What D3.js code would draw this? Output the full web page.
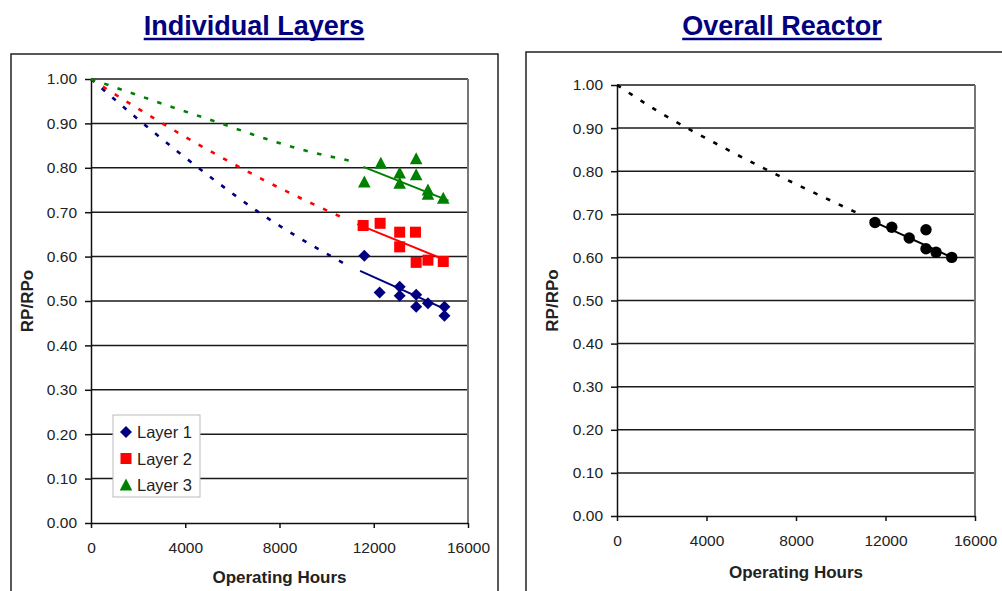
<!DOCTYPE html>
<html><head><meta charset="utf-8">
<script src="https://cdn.jsdelivr.net/npm/d3@7"></script>
<style>
body{margin:0;background:#fff}
svg{display:block;font-family:"Liberation Sans",Arial,sans-serif}
</style>
</head><body>
<svg id="chart" width="1002" height="591"></svg>
<script>
// ---------- data ----------
const yTicks = [0, 0.1, 0.2, 0.3, 0.4, 0.5, 0.6, 0.7, 0.8, 0.9, 1.0];
const xTicks = [0, 4000, 8000, 12000, 16000];

const layer1Hours  = [11600, 12250, 13100, 13100, 13800, 13800, 14300, 15000, 15000];
const layer1Values = [0.602, 0.519, 0.532, 0.512, 0.514, 0.487, 0.495, 0.487, 0.467];
const layer2Hours  = [11550, 12270, 13100, 13100, 13770, 13800, 14300, 14950];
const layer2Values = [0.670, 0.675, 0.655, 0.622, 0.655, 0.587, 0.592, 0.589];
const layer3Hours  = [11600, 12300, 13100, 13100, 13800, 13800, 14300, 14300, 14950];
const layer3Values = [0.768, 0.810, 0.788, 0.765, 0.820, 0.784, 0.750, 0.740, 0.731];
const overallHours  = [11530, 12280, 13060, 13810, 13810, 14260, 14960];
const overallValues = [0.681, 0.670, 0.645, 0.664, 0.620, 0.612, 0.600];

// trend lines (solid, over data range)
const layer1TrendHours = [11420, 15100], layer1TrendValues = [0.568, 0.480];
const layer2TrendHours = [11300, 15100], layer2TrendValues = [0.673, 0.591];
const layer3TrendHours = [11560, 15170], layer3TrendValues = [0.802, 0.726];
const overallTrendHours = [11300, 15050], overallTrendValues = [0.687, 0.598];

// dotted extrapolations back to origin
const layer1ExtHours = [0, 2300, 5050, 7035, 10860], layer1ExtValues = [1.0, 0.896, 0.780, 0.703, 0.581];
const layer2ExtHours = [0, 2250, 4980, 7316, 10785], layer2ExtValues = [1.0, 0.925, 0.840, 0.773, 0.685];
const layer3ExtHours = [0, 4726, 9299, 11070], layer3ExtValues = [1.0, 0.914, 0.836, 0.815];
const overallExtHours = [0, 1800, 4900, 10950], overallExtValues = [1.0, 0.940, 0.851, 0.698];

const legendLabels = ["Layer 1", "Layer 2", "Layer 3"];
const colors = {l1: "#000080", l2: "#ff0000", l3: "#008000", all: "#000000"};

// ---------- drawing ----------
const svg = d3.select("#chart");
const zip = (a, b) => a.map((v, i) => [v, b[i]]);

function marker(g, type, cx, cy, color) {
  if (type === "diamond") {
    const r = 6;
    g.append("path").attr("d", `M${cx},${cy-r}L${cx+r},${cy}L${cx},${cy+r}L${cx-r},${cy}Z`).attr("fill", color);
  } else if (type === "square") {
    const r = 5.5;
    g.append("rect").attr("x", cx-r).attr("y", cy-r).attr("width", 2*r).attr("height", 2*r).attr("fill", color);
  } else if (type === "triangle") {
    const w = 6.3, h = 12;
    g.append("path").attr("d", `M${cx},${cy-h*0.55}L${cx+w},${cy+h*0.45}L${cx-w},${cy+h*0.45}Z`).attr("fill", color);
  } else {
    g.append("circle").attr("cx", cx).attr("cy", cy).attr("r", 5.7).attr("fill", color);
  }
}

function panel(cfg) {
  const x = d3.scaleLinear().domain([0, 16000]).range([cfg.x0, cfg.x1]);
  const y = d3.scaleLinear().domain([0, 1]).range([cfg.y0, cfg.y1]);
  const g = svg.append("g");

  g.append("rect").attr("x", cfg.box[0]).attr("y", cfg.box[1]).attr("width", cfg.box[2]).attr("height", cfg.box[3])
    .attr("fill", "none").attr("stroke", "#222").attr("stroke-width", 1.5);

  const t = g.append("text").attr("x", cfg.titleX).attr("y", 35).attr("text-anchor", "middle")
    .attr("font-size", 27).attr("font-weight", "bold").attr("fill", "#000080").text(cfg.title);
  const tl = t.node().getComputedTextLength();
  g.append("line").attr("x1", cfg.titleX - tl/2).attr("x2", cfg.titleX + tl/2).attr("y1", 39).attr("y2", 39)
    .attr("stroke", "#000080").attr("stroke-width", 2.5);

  g.append("g").selectAll("line").data(yTicks.filter(d => d > 0)).join("line")
    .attr("x1", cfg.x0).attr("x2", cfg.x1).attr("y1", d => y(d)).attr("y2", d => y(d))
    .attr("stroke", "#1a1a1a").attr("stroke-width", 1.5);
  g.append("line").attr("x1", cfg.x1).attr("x2", cfg.x1).attr("y1", y(1)).attr("y2", y(0))
    .attr("stroke", "#777").attr("stroke-width", 2);

  const ay = g.append("g").attr("transform", `translate(${cfg.x0},0)`)
    .call(d3.axisLeft(y).tickValues(yTicks).tickFormat(d3.format(".2f")).tickSize(6).tickSizeOuter(0).tickPadding(8));
  const ax = g.append("g").attr("transform", `translate(0,${cfg.y0})`)
    .call(d3.axisBottom(x).tickValues(xTicks).tickFormat(d3.format("d")).tickSize(5).tickSizeOuter(0).tickPadding(14));
  [ay, ax].forEach(a => {
    a.selectAll("path,line").attr("stroke", "#111").attr("stroke-width", 1.5);
    a.selectAll("text").attr("font-size", 15.5).attr("fill", "#222").attr("font-family", "Liberation Sans, Arial, sans-serif");
  });

  g.append("text").attr("x", (cfg.x0 + cfg.x1)/2).attr("y", cfg.xTitleY).attr("text-anchor", "middle")
    .attr("font-size", 17).attr("font-weight", "bold").attr("fill", "#222").text("Operating Hours");
  g.append("text").attr("transform", `translate(${cfg.yTitleX},${(cfg.y0 + cfg.y1)/2}) rotate(-90)`)
    .attr("text-anchor", "middle").attr("font-size", 17).attr("font-weight", "bold").attr("fill", "#222").text("RP/RPo");

  const line = d3.line().x(d => x(d[0])).y(d => y(d[1]));
  const lineCurve = d3.line().x(d => x(d[0])).y(d => y(d[1])).curve(d3.curveMonotoneX);

  cfg.series.forEach(s => {
    g.append("path").attr("d", lineCurve(zip(s.extH, s.extV))).attr("fill", "none")
      .attr("stroke", s.color).attr("stroke-width", 2.6).attr("stroke-dasharray", "4.5,9.5");
    g.append("path").attr("d", line(zip(s.trH, s.trV))).attr("fill", "none")
      .attr("stroke", s.color).attr("stroke-width", 2);
  });
  cfg.series.forEach(s => {
    const mg = g.append("g");
    zip(s.h, s.v).forEach(p => marker(mg, s.marker, x(p[0]), y(p[1]), s.color));
  });
  return {g, x, y};
}

panel({
  x0: 91, x1: 468, y0: 523, y1: 79, box: [11, 54, 487, 600], title: "Individual Layers", titleX: 254,
  xTitleY: 583, yTitleX: 33,
  series: [
    {h: layer1Hours, v: layer1Values, trH: layer1TrendHours, trV: layer1TrendValues, extH: layer1ExtHours, extV: layer1ExtValues, color: colors.l1, marker: "diamond"},
    {h: layer2Hours, v: layer2Values, trH: layer2TrendHours, trV: layer2TrendValues, extH: layer2ExtHours, extV: layer2ExtValues, color: colors.l2, marker: "square"},
    {h: layer3Hours, v: layer3Values, trH: layer3TrendHours, trV: layer3TrendValues, extH: layer3ExtHours, extV: layer3ExtValues, color: colors.l3, marker: "triangle"}
  ]
});

panel({
  x0: 617, x1: 975, y0: 516, y1: 85, box: [526, 52, 520, 600], title: "Overall Reactor", titleX: 782,
  xTitleY: 578, yTitleX: 558,
  series: [
    {h: overallHours, v: overallValues, trH: overallTrendHours, trV: overallTrendValues, extH: overallExtHours, extV: overallExtValues, color: colors.all, marker: "circle"}
  ]
});

// legend
const lg = svg.append("g");
lg.append("rect").attr("x", 113).attr("y", 415).attr("width", 87).attr("height", 82)
  .attr("fill", "#fff").attr("stroke", "#bbb").attr("stroke-width", 1);
const legendMarkers = ["diamond", "square", "triangle"];
const legendColors = [colors.l1, colors.l2, colors.l3];
legendLabels.forEach((lab, i) => {
  const cy = 432 + i * 26.5;
  marker(lg, legendMarkers[i], 126, cy, legendColors[i]);
  lg.append("text").attr("x", 137).attr("y", cy + 6).attr("font-size", 16.5).attr("fill", "#222").text(lab);
});
</script>
</body></html>
